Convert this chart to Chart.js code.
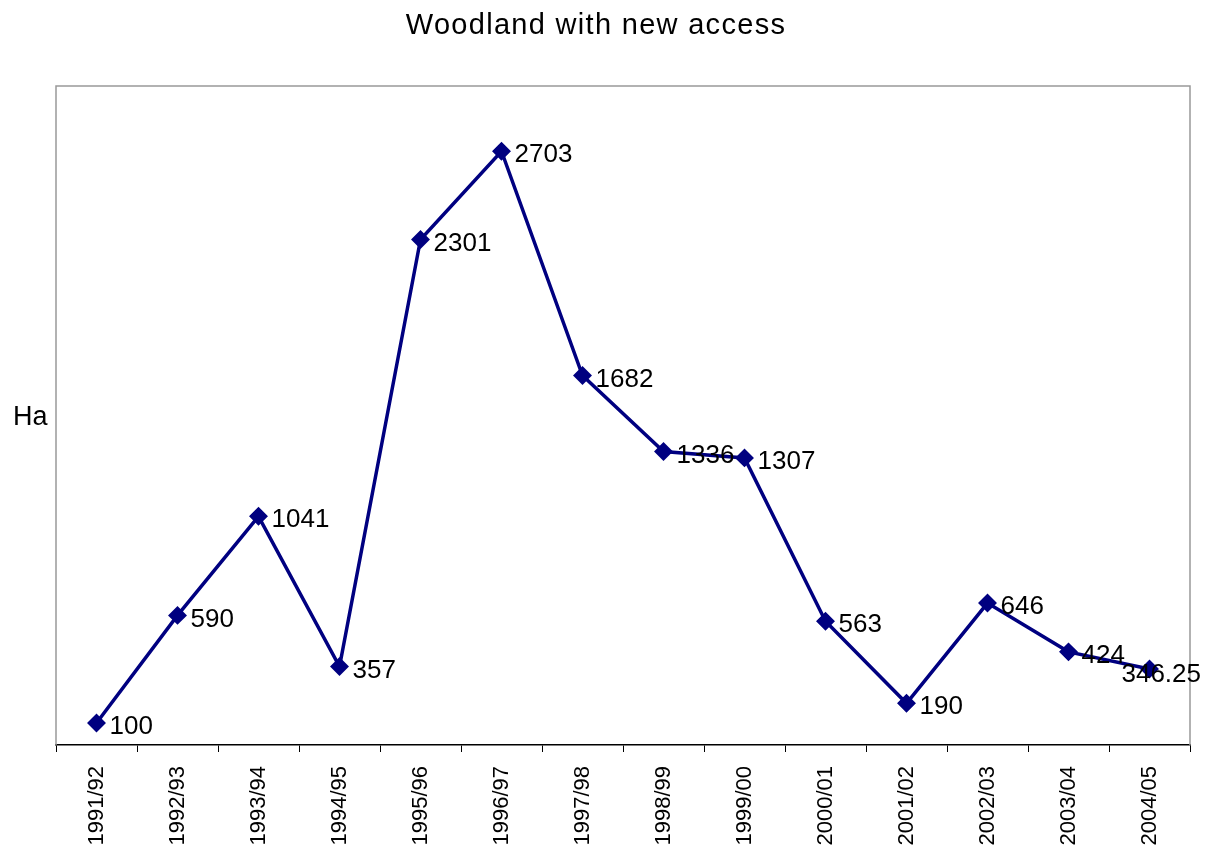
<!DOCTYPE html>
<html>
<head>
<meta charset="utf-8">
<script src="https://cdn.jsdelivr.net/npm/chart.js@4/dist/chart.umd.min.js"></script>
<style>
    html, body { margin: 0; padding: 0; background: #fff; }
    #wrap { width: 1207px; height: 849px; }
</style>
</head>
<body>
<div id="wrap"><canvas id="woodChart" width="1207" height="849"></canvas></div>
<script>
// Data
const years = ['1991/92', '1992/93', '1993/94', '1994/95', '1995/96', '1996/97', '1997/98',
    '1998/99', '1999/00', '2000/01', '2001/02', '2002/03', '2003/04', '2004/05'];
const hectares = [100, 590, 1041, 357, 2301, 2703, 1682, 1336, 1307, 563, 190, 646, 424, 346.25];
const pointLabels = ['100', '590', '1041', '357', '2301', '2703', '1682', '1336', '1307', '563', '190', '646', '424', '346.25'];

const titleText = 'Woodland with new access';
const yAxisText = 'Ha';
const lineColor = '#000080';
const fontName = '"Liberation Sans", Arial, sans-serif';

// Frame, title, axis title and point labels
const extrasPlugin = {
    id: 'extras',
    beforeDatasetsDraw(chart) {
        const { ctx, chartArea: a } = chart;
        ctx.save();
        ctx.strokeStyle = '#999999';
        ctx.lineWidth = 1.5;
        ctx.beginPath();
        ctx.moveTo(a.left, a.bottom);
        ctx.lineTo(a.left, a.top);
        ctx.lineTo(a.right, a.top);
        ctx.lineTo(a.right, a.bottom);
        ctx.stroke();
        ctx.restore();
    },
    afterDatasetsDraw(chart) {
        const { ctx } = chart;
        ctx.save();
        ctx.fillStyle = '#000';
        ctx.font = '26px ' + fontName;
        ctx.textBaseline = 'middle';
        const meta = chart.getDatasetMeta(0);
        meta.data.forEach((pt, i) => {
            // the last label is pushed left so it stays inside the picture
            if (i === meta.data.length - 1) {
                ctx.textAlign = 'right';
                ctx.fillText(pointLabels[i], 1201, pt.y + 6);
            } else {
                ctx.textAlign = 'left';
                ctx.fillText(pointLabels[i], pt.x + 13, pt.y + 4);
            }
        });

        ctx.textAlign = 'center';
        ctx.textBaseline = 'alphabetic';
        ctx.font = '29px ' + fontName;
        ctx.letterSpacing = '1.3px';
        ctx.fillText(titleText, 596, 34);
        ctx.letterSpacing = '0px';
        ctx.textAlign = 'left';
        ctx.font = '27px ' + fontName;
        ctx.fillText(yAxisText, 13, 425);
        ctx.restore();
    }
};

new Chart(document.getElementById('woodChart'), {
    type: 'line',
    data: {
        labels: years,
        datasets: [{
            data: hectares,
            borderColor: lineColor,
            backgroundColor: lineColor,
            borderWidth: 3.5,
            pointStyle: 'rectRot',
            pointRadius: 7,
            pointHoverRadius: 7,
            tension: 0,
            fill: false
        }]
    },
    options: {
        responsive: false,
        animation: false,
        layout: { padding: { left: 56, right: 17, top: 86, bottom: 0 } },
        plugins: {
            legend: { display: false },
            tooltip: { enabled: false },
            title: { display: false }
        },
        scales: {
            x: {
                offset: true,
                grid: {
                    offset: true,
                    drawOnChartArea: false,
                    drawTicks: true,
                    tickLength: 7,
                    color: '#000'
                },
                border: { color: '#000', width: 1.5 },
                ticks: {
                    minRotation: 90,
                    maxRotation: 90,
                    padding: 14,
                    color: '#000',
                    font: { family: fontName, size: 22 }
                },
                afterFit(scale) { scale.height = 104; }
            },
            y: {
                display: false,
                min: 0,
                max: 3000
            }
        }
    },
    plugins: [extrasPlugin]
});
</script>
</body>
</html>
